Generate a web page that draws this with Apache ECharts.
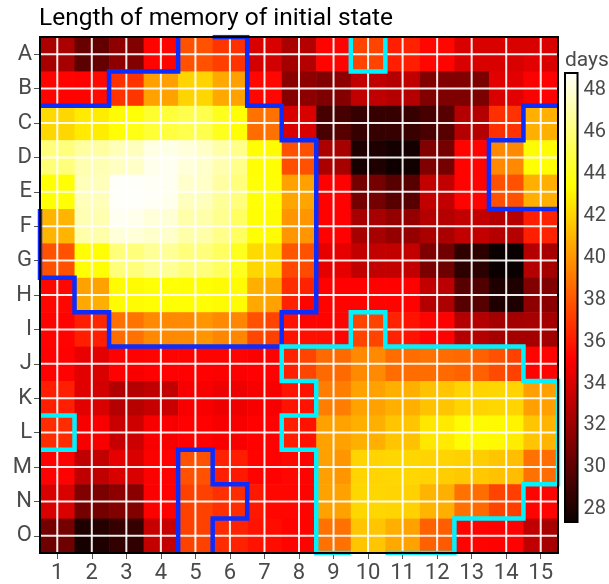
<!DOCTYPE html>
<html>
<head>
<meta charset="utf-8">
<script src="https://cdn.jsdelivr.net/npm/echarts@6/dist/echarts.min.js"></script>
<style>
html,body{margin:0;padding:0;background:#fff;}
#chart{width:609px;height:584px;}
</style>
</head>
<body>
<div id="chart"></div>
<script>
// ---- tick labels ----
const xTicks = [1,2,3,4,5,6,7,8,9,10,11,12,13,14,15];
const yTickLabels = ['A','B','C','D','E','F','G','H','I','J','K','L','M','N','O'];
const colorbarTicks = [28,30,32,34,36,38,40,42,44,46,48];
const colorMin = 27.4, colorMax = 48.8;

// ---- heatmap values: 30 sub-rows (two per lettered row), 30 sub-columns each ----
const rowA1 = [32.5,32.5,30.4,30.2,31.6,31.2,35.3,35.3,37.8,37.8,36.9,36.7,34.0,34.0,32.5,32.8,35.3,35.3,37.4,37.4,36.2,36.3,35.4,35.4,34.0,34.0,34.0,34.0,34.0,34.0];
const rowA2 = [32.4,32.4,30.0,30.3,31.6,31.2,35.3,35.3,37.8,37.8,37.2,36.8,33.8,33.8,32.3,32.8,35.3,35.3,37.4,37.4,36.2,36.2,35.4,35.3,34.0,34.0,34.0,34.0,34.3,34.0];
const rowB1 = [35.3,35.3,35.2,35.5,36.8,36.8,40.3,40.3,42.0,42.0,40.6,40.3,35.4,35.4,31.5,31.6,31.2,31.6,33.2,33.2,32.8,33.2,31.2,31.2,31.2,31.0,34.3,34.3,35.1,35.2];
const rowB2 = [35.3,35.3,35.3,35.5,36.8,36.9,40.4,40.4,42.0,42.1,40.6,40.4,35.4,35.4,31.4,31.6,31.1,31.3,33.2,33.2,32.8,32.8,31.2,31.1,31.1,31.0,34.0,34.3,35.1,35.2];
const rowC1 = [42.2,42.1,42.7,42.8,43.3,43.5,44.4,44.6,45.0,45.0,44.0,43.4,38.8,38.8,34.0,34.0,29.3,29.3,28.8,28.8,28.8,28.8,29.3,29.8,32.8,32.8,36.7,36.8,40.8,40.8];
const rowC2 = [42.1,42.1,42.7,42.8,43.4,43.8,44.5,44.7,45.0,45.0,44.0,43.4,38.7,38.8,34.0,34.0,29.4,29.8,28.8,28.8,28.8,28.9,29.4,29.8,32.8,32.8,36.7,36.8,40.8,40.8];
const rowD1 = [46.0,46.0,46.8,46.8,47.3,47.4,48.2,48.3,48.0,47.6,47.0,46.3,43.4,43.3,37.8,37.8,32.6,32.4,28.0,28.0,27.7,27.7,31.2,30.8,35.3,35.3,39.6,39.6,43.3,43.3];
const rowD2 = [45.9,46.0,47.1,47.2,47.5,47.6,48.4,48.5,48.0,47.7,47.1,46.3,43.4,43.4,37.7,37.8,32.5,32.4,27.8,28.0,27.5,27.6,31.1,30.8,35.3,35.3,39.6,39.6,43.4,43.4];
const rowE1 = [43.4,43.4,47.3,47.3,48.7,48.7,48.6,48.5,47.7,47.6,46.8,46.0,43.5,43.4,40.4,40.4,35.2,35.2,30.8,30.8,29.8,29.8,33.3,33.3,35.3,35.3,37.8,37.8,40.8,40.8];
const rowE2 = [43.4,43.4,47.3,47.3,48.7,48.7,48.6,48.4,47.4,47.4,46.6,46.0,43.5,43.4,40.5,40.5,35.2,35.2,30.8,30.8,29.8,29.8,33.3,33.3,35.3,35.3,37.8,37.8,40.8,40.8];
const rowF1 = [41.0,41.0,47.2,47.1,48.5,48.4,48.0,47.9,47.0,47.0,46.4,45.4,43.4,43.3,40.0,40.0,35.2,35.2,32.4,32.4,31.8,31.8,32.8,32.8,33.3,33.3,32.8,32.8,36.2,36.3];
const rowF2 = [41.0,41.0,47.0,47.0,48.0,48.0,47.7,47.7,47.0,47.0,46.3,45.4,43.4,43.3,40.0,40.0,35.2,35.2,32.4,32.4,31.8,31.8,32.5,32.5,33.3,33.3,32.8,32.8,36.2,36.3];
const rowG1 = [37.8,37.8,43.4,43.4,46.0,46.0,46.6,46.6,46.0,46.0,45.4,44.0,42.2,42.1,37.9,37.8,34.4,34.4,33.3,33.3,33.3,33.3,31.1,30.7,28.6,28.5,27.4,27.4,32.8,32.4];
const rowG2 = [37.8,37.8,43.4,43.4,46.0,46.0,46.6,46.6,46.0,46.0,45.4,44.0,42.1,42.0,37.5,37.6,34.4,34.4,33.2,33.3,33.3,33.3,31.0,30.6,28.5,28.4,27.4,27.4,32.8,32.3];
const rowH1 = [35.4,35.4,40.4,40.4,43.3,43.3,43.5,43.5,43.4,43.4,43.3,43.3,40.8,40.5,36.6,36.3,35.2,35.2,35.2,35.2,35.2,35.2,33.3,33.0,29.8,29.6,28.0,28.0,31.2,31.2];
const rowH2 = [35.4,35.4,40.6,40.8,43.3,43.3,43.4,43.4,43.4,43.4,43.3,43.3,40.6,40.4,36.3,35.3,35.3,35.3,35.3,35.3,35.3,35.2,32.8,32.6,29.8,29.8,28.0,28.0,31.6,31.5];
const rowI1 = [35.3,35.3,36.2,36.4,38.8,38.9,39.6,39.6,39.6,40.0,39.6,39.5,37.8,37.4,35.8,35.3,35.3,35.3,37.4,37.4,36.3,35.8,35.3,35.2,32.8,32.8,32.3,32.3,32.4,32.3];
const rowI2 = [35.3,35.3,36.2,36.2,38.7,38.8,39.6,39.6,39.6,40.0,39.5,39.5,37.5,37.3,35.8,35.7,35.7,35.3,37.4,37.4,36.3,35.8,35.3,35.2,32.8,32.8,32.3,32.3,32.3,32.2];
const rowJ1 = [35.2,35.2,34.5,34.3,35.2,35.2,35.3,35.3,35.3,35.3,35.3,35.3,35.1,35.2,36.3,37.4,38.6,38.6,39.6,39.6,38.7,38.7,38.8,38.7,38.6,38.3,37.8,37.3,35.3,35.3];
const rowJ2 = [35.2,35.2,34.3,34.0,35.2,35.0,35.2,35.2,35.2,35.2,35.1,35.1,35.2,35.2,36.2,37.4,38.6,38.6,39.6,39.6,38.7,38.7,38.7,38.6,38.4,38.3,37.6,37.3,35.3,35.3];
const rowK1 = [36.2,36.2,34.2,33.8,32.7,32.8,33.2,33.3,35.0,35.0,34.6,34.6,35.0,35.0,35.8,35.8,39.2,39.2,40.4,40.4,40.8,40.8,41.4,41.5,42.0,42.0,42.1,42.0,40.3,40.3];
const rowK2 = [36.2,36.2,34.3,34.0,32.8,32.9,33.4,33.5,35.0,35.0,34.7,34.7,35.0,35.0,35.8,35.8,39.2,39.2,40.4,40.4,40.8,40.8,41.4,41.5,42.0,42.0,42.1,42.0,40.3,40.3];
const rowL1 = [36.6,36.6,35.0,35.0,33.5,33.7,35.0,35.0,35.2,35.2,35.0,35.0,35.2,35.2,36.2,35.8,40.4,40.4,40.8,40.8,41.5,41.5,42.6,42.7,43.3,43.3,43.2,43.0,41.5,41.0];
const rowL2 = [36.6,36.6,35.0,35.0,33.4,33.6,35.0,35.0,35.2,35.2,35.0,35.0,35.2,35.2,36.2,35.8,40.4,40.4,40.8,40.8,41.5,41.4,42.6,42.7,43.3,43.3,43.2,42.8,41.5,41.0];
const rowM1 = [35.2,35.2,33.2,33.3,34.4,34.0,35.1,35.2,37.8,37.8,36.3,36.1,35.3,35.2,35.4,35.3,40.3,40.0,42.0,42.0,42.1,42.1,42.0,42.0,41.9,41.8,41.5,41.3,38.8,38.7];
const rowM2 = [35.2,35.2,33.2,33.2,34.0,34.0,35.1,35.2,37.8,37.8,36.2,36.0,35.3,35.2,35.4,35.3,40.3,40.0,42.0,42.0,42.1,42.1,42.0,41.8,41.6,41.6,41.4,41.2,38.8,38.7];
const rowN1 = [34.0,34.0,31.2,31.0,31.6,31.5,35.1,35.2,37.3,37.3,36.7,36.6,36.0,35.4,35.4,35.3,40.4,40.4,42.1,42.1,42.0,41.9,41.0,40.8,38.8,38.7,37.4,37.2,35.3,35.3];
const rowN2 = [34.0,34.0,30.8,30.8,31.2,31.2,35.1,35.2,37.3,37.3,36.7,36.6,36.0,35.4,35.4,35.3,40.4,40.4,42.1,42.1,42.0,41.9,41.0,40.8,38.8,38.6,37.4,37.2,35.3,35.3];
const rowO1 = [30.8,30.8,28.0,28.2,28.8,28.8,33.4,33.4,37.3,37.3,36.6,36.3,35.8,35.6,35.3,35.3,38.8,38.8,41.5,41.5,40.8,40.4,38.3,38.2,35.3,35.3,35.2,35.2,33.2,32.4];
const rowO2 = [30.6,30.6,27.8,28.0,28.7,28.6,33.3,33.3,37.3,37.3,36.6,36.3,35.8,35.6,35.3,35.3,38.8,38.8,41.5,41.5,40.6,40.4,38.3,38.1,35.3,35.3,35.2,35.2,33.2,32.4];

// ---- region outlines (data coordinates) ----
const blueNW1 = [[4.5,0.5],[4.5,1.5],[2.5,1.5],[2.5,2.5],[0.5,2.5]];
const blueNW2 = [[5.5,0.5],[6.5,0.5],[6.5,2.5],[7.5,2.5],[7.5,3.5],[8.5,3.5],[8.5,8.5],[7.5,8.5],[7.5,9.5],[2.5,9.5],[2.5,8.5],[1.5,8.5],[1.5,7.5],[0.5,7.5],[0.5,5.5]];
const blueNE = [[15.5,2.5],[14.5,2.5],[14.5,3.5],[13.5,3.5],[13.5,5.5],[15.5,5.5]];
const blueS = [[4.5,15.5],[4.5,12.5],[5.5,12.5],[5.5,13.5],[6.5,13.5],[6.5,14.5],[5.5,14.5],[5.5,15.5]];
const cyanTop = [[9.5,0.5],[9.5,1.5],[10.5,1.5],[10.5,0.5]];
const cyanL = [[0.5,11.5],[1.5,11.5],[1.5,12.5],[0.5,12.5]];
const cyanSE = [[9.5,15.5],[8.5,15.5],[8.5,12.5],[7.5,12.5],[7.5,11.5],[8.5,11.5],[8.5,10.5],[7.5,10.5],[7.5,9.5],[9.5,9.5],[9.5,8.5],[10.5,8.5],[10.5,9.5],[14.5,9.5],[14.5,10.5],[15.5,10.5],[15.5,13.5],[14.5,13.5],[14.5,14.5],[12.5,14.5],[12.5,15.5],[10.5,15.5]];

const rows = [rowA1,rowA2,rowB1,rowB2,rowC1,rowC2,rowD1,rowD2,rowE1,rowE2,rowF1,rowF2,rowG1,rowG2,rowH1,rowH2,rowI1,rowI2,rowJ1,rowJ2,rowK1,rowK2,rowL1,rowL2,rowM1,rowM2,rowN1,rowN2,rowO1,rowO2];

const heatData = [];
rows.forEach((row, r) => row.forEach((v, c) => heatData.push([0.75 + 0.5 * c, 0.75 + 0.5 * r, v])));

function hot(t) {
  t = Math.max(0, Math.min(1, t));
  const r = Math.min(1, 0.0416 + (1 - 0.0416) * t / 0.365079);
  const g = Math.max(0, Math.min(1, (t - 0.365079) / (0.746032 - 0.365079)));
  const b = Math.max(0, Math.min(1, (t - 0.746032) / (1 - 0.746032)));
  return 'rgb(' + Math.round(r * 255) + ',' + Math.round(g * 255) + ',' + Math.round(b * 255) + ')';
}
const hotStops = [];
for (let i = 0; i <= 60; i++) hotStops.push(hot(i / 60));
const gradStops = [];
for (let i = 0; i <= 60; i++) gradStops.push({offset: i / 60, color: hot(1 - i / 60)});

const chart = echarts.init(document.getElementById('chart'), null, {renderer: 'canvas'});
const FONT = 'Roboto';
const LABEL = '#4a4a4a';

function outline(data, color) {
  return {
    type: 'line', xAxisIndex: 0, yAxisIndex: 0, data: data,
    symbol: 'none', silent: true, animation: false, z: 6, clip: true,
    lineStyle: {color: color, width: 4.5, join: 'miter', cap: 'butt'}
  };
}

chart.setOption({
  animation: false,
  backgroundColor: '#fff',
  title: [
    {text: 'Length of memory of initial state', left: 34, top: 1,
     textStyle: {fontFamily: FONT, fontSize: 24.5, fontWeight: 'normal', color: '#000'}},
    {text: 'days', left: 560, top: 45,
     textStyle: {fontFamily: FONT, fontSize: 21, fontWeight: 'normal', color: LABEL}}
  ],
  grid: [
    {left: 40, top: 37, width: 518, height: 517},
    {left: 565, top: 73, width: 13, height: 449}
  ],
  visualMap: {
    type: 'continuous', show: false, min: colorMin, max: colorMax,
    dimension: 2, seriesIndex: 0, inRange: {color: hotStops}
  },
  xAxis: [
    {type: 'value', gridIndex: 0, min: 0.5, max: 15.5, position: 'bottom',
     axisLine: {show: false}, splitLine: {show: false},
     axisTick: {show: true, customValues: xTicks, length: 6, lineStyle: {color: '#555', width: 1}},
     axisLabel: {customValues: xTicks, margin: 9, fontFamily: FONT, fontSize: 22, color: LABEL}},
    {type: 'value', gridIndex: 1, min: 0, max: 1, show: false}
  ],
  yAxis: [
    {type: 'value', gridIndex: 0, min: 0.5, max: 15.5, inverse: true,
     axisLine: {show: false}, splitLine: {show: false},
     axisTick: {show: true, customValues: xTicks, length: 6, lineStyle: {color: '#555', width: 1}},
     axisLabel: {customValues: xTicks, margin: 8, fontFamily: FONT, fontSize: 22, color: LABEL,
                 formatter: v => yTickLabels[Math.round(v) - 1] || ''}},
    {type: 'value', gridIndex: 1, min: colorMin, max: colorMax, position: 'right',
     axisLine: {show: false}, splitLine: {show: false},
     axisTick: {show: true, customValues: colorbarTicks, length: 5, lineStyle: {color: '#555', width: 1}},
     axisLabel: {customValues: colorbarTicks, margin: 6, fontFamily: FONT, fontSize: 20, color: LABEL}}
  ],
  series: [
    {
      type: 'custom', xAxisIndex: 0, yAxisIndex: 0, data: heatData, z: 1, clip: true,
      encode: {x: 0, y: 1},
      renderItem: function (params, api) {
        const x = api.value(0), y = api.value(1);
        const p0 = api.coord([x - 0.25, y - 0.25]);
        const p1 = api.coord([x + 0.25, y + 0.25]);
        return {type: 'rect',
          shape: {x: Math.min(p0[0], p1[0]), y: Math.min(p0[1], p1[1]),
                  width: Math.abs(p1[0] - p0[0]) + 0.6, height: Math.abs(p1[1] - p0[1]) + 0.6},
          style: {fill: api.visual('color')}};
      }
    },
    {
      type: 'custom', xAxisIndex: 0, yAxisIndex: 0, data: xTicks.map(v => [v]), z: 3, silent: true,
      renderItem: function (params, api) {
        const v = api.value(0);
        const a = api.coord([v, 0.5]), b = api.coord([v, 15.5]);
        const c = api.coord([0.5, v]), d = api.coord([15.5, v]);
        return {type: 'group', children: [
          {type: 'line', shape: {x1: a[0], y1: a[1], x2: b[0], y2: b[1]}, style: {stroke: 'rgba(255,255,255,0.92)', lineWidth: 2}},
          {type: 'line', shape: {x1: c[0], y1: c[1], x2: d[0], y2: d[1]}, style: {stroke: 'rgba(255,255,255,0.92)', lineWidth: 2}}
        ]};
      }
    },
    outline(blueNW1, '#0a2cff'),
    outline(blueNW2, '#0a2cff'),
    outline(blueNE, '#0a2cff'),
    outline(blueS, '#0a2cff'),
    outline(cyanTop, '#00f2ff'),
    outline(cyanL, '#00f2ff'),
    outline(cyanSE, '#00f2ff'),
    {
      type: 'custom', xAxisIndex: 0, yAxisIndex: 0, data: [[0.5, 0.5, 15.5, 15.5]], z: 10, silent: true,
      renderItem: function (params, api) {
        const p0 = api.coord([api.value(0), api.value(1)]);
        const p1 = api.coord([api.value(2), api.value(3)]);
        return {type: 'rect', shape: {x: p0[0], y: p0[1], width: p1[0] - p0[0], height: p1[1] - p0[1]},
          style: {fill: 'none', stroke: '#000', lineWidth: 2}};
      }
    },
    {
      type: 'custom', xAxisIndex: 1, yAxisIndex: 1, data: [[0, colorMax, 1, colorMin]], z: 2, silent: true,
      renderItem: function (params, api) {
        const p0 = api.coord([api.value(0), api.value(1)]);
        const p1 = api.coord([api.value(2), api.value(3)]);
        return {type: 'rect', shape: {x: p0[0], y: p0[1], width: p1[0] - p0[0], height: p1[1] - p0[1]},
          style: {fill: {type: 'linear', x: 0, y: 0, x2: 0, y2: 1, colorStops: gradStops},
                  stroke: '#000', lineWidth: 2}};
      }
    }
  ]
});
</script>
</body>
</html>
